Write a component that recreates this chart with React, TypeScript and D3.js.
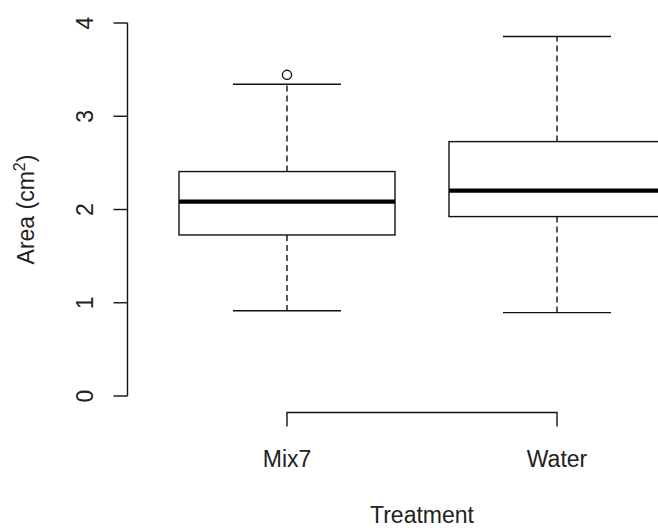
import React from "react";
import * as d3 from "d3";

// Box-plot summaries of leaf area per treatment
const categories = ["Mix7", "Water"];
const lowerWhisker = [0.915, 0.894];
const q1 = [1.727, 1.924];
const median = [2.085, 2.203];
const q3 = [2.407, 2.728];
const upperWhisker = [3.343, 3.855];
const outlierGroup = [0];
const outlierValue = [3.444];
const yTicks = [0, 1, 2, 3, 4];

const W = 658;
const H = 531;
const FONT = "'Liberation Sans', Arial, Helvetica, sans-serif";

export default function App() {
  // Group positions 1..n on an x domain padded by half a unit each side
  const x = d3.scaleLinear().domain([0.5, 2.5]).range([152, 692]);
  const y = d3.scaleLinear().domain([0, 4]).range([396, 23]);
  const boxHalf = x(1.4) - x(1);
  const stapleHalf = boxHalf / 2;
  const axisX = 127.5;
  const axisY = 412.5;
  const tick = 14;
  const stroke = "#111";

  return (
    <svg
      width={W}
      height={H}
      style={{ position: "absolute", left: 0, top: 0, background: "#fff" }}
      fontFamily={FONT}
    >
      {/* boxes */}
      {categories.map((c, i) => {
        const cx = x(i + 1);
        return (
          <g key={c}>
            <line x1={cx} x2={cx} y1={y(q3[i])} y2={y(upperWhisker[i])} stroke={stroke} strokeWidth={1.4} strokeDasharray="6,4" />
            <line x1={cx} x2={cx} y1={y(q1[i])} y2={y(lowerWhisker[i])} stroke={stroke} strokeWidth={1.4} strokeDasharray="6,4" />
            <line x1={cx - stapleHalf} x2={cx + stapleHalf} y1={y(upperWhisker[i])} y2={y(upperWhisker[i])} stroke={stroke} strokeWidth={1.4} />
            <line x1={cx - stapleHalf} x2={cx + stapleHalf} y1={y(lowerWhisker[i])} y2={y(lowerWhisker[i])} stroke={stroke} strokeWidth={1.4} />
            <rect
              x={cx - boxHalf}
              y={y(q3[i])}
              width={boxHalf * 2}
              height={y(q1[i]) - y(q3[i])}
              fill="none"
              stroke={stroke}
              strokeWidth={1.4}
            />
            <line x1={cx - boxHalf} x2={cx + boxHalf} y1={y(median[i])} y2={y(median[i])} stroke="#000" strokeWidth={4.2} />
          </g>
        );
      })}
      {outlierGroup.map((g, k) => (
        <circle key={k} cx={x(g + 1)} cy={y(outlierValue[k])} r={4.6} fill="none" stroke={stroke} strokeWidth={1.3} />
      ))}

      {/* y axis */}
      <line x1={axisX} x2={axisX} y1={y(0)} y2={y(4)} stroke={stroke} strokeWidth={1.4} />
      {yTicks.map((t) => (
        <g key={t}>
          <line x1={axisX - tick} x2={axisX} y1={y(t)} y2={y(t)} stroke={stroke} strokeWidth={1.4} />
          <text
            transform={`translate(93,${y(t)}) rotate(-90)`}
            textAnchor="middle"
            fontSize={23}
            fill="#222"
          >
            {t}
          </text>
        </g>
      ))}
      <text transform={`translate(34,${(y(0) + y(4)) / 2}) rotate(-90)`} textAnchor="middle" fontSize={23} fill="#222">
        Area (cm
        <tspan fontSize={16} dy={-9}>2</tspan>
        <tspan dy={9}>)</tspan>
      </text>

      {/* x axis */}
      <path
        d={`M${x(1)},${axisY + tick}V${axisY}H${x(2)}V${axisY + tick}`}
        fill="none"
        stroke={stroke}
        strokeWidth={1.4}
      />
      {categories.map((c, i) => (
        <text key={c} x={x(i + 1)} y={467} textAnchor="middle" fontSize={23} fill="#222">
          {c}
        </text>
      ))}
      <text x={(x(1) + x(2)) / 2} y={523} textAnchor="middle" fontSize={23} fill="#222">
        Treatment
      </text>
    </svg>
  );
}
